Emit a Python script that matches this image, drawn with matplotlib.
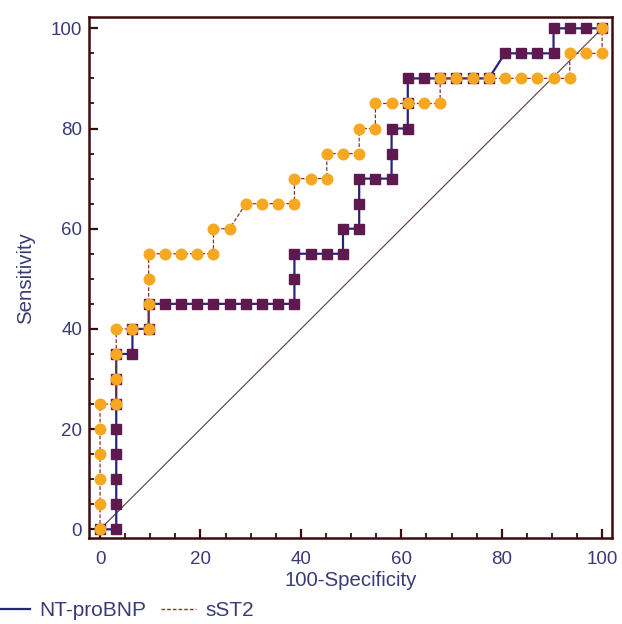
import matplotlib
matplotlib.use("Agg")
import matplotlib.pyplot as plt
from matplotlib.lines import Line2D
from matplotlib.ticker import MultipleLocator
import numpy as np

plt.rcParams['font.family'] = ['Liberation Sans', 'DejaVu Sans']

N_NEG = 31  # negatives -> step of 100/31 on the x axis

# NT-proBNP ROC points: (false-positive count k, sensitivity %)
bnp_k = [0, 1, 1, 1, 1, 1, 1, 1, 1, 2, 2, 3, 3, 4, 5, 6, 7, 8, 9, 10, 11, 12, 12, 12,
         13, 14, 15, 15, 16, 16, 16, 17, 18, 18, 18, 19, 19, 19, 20, 21, 22, 23, 24,
         25, 26, 27, 28, 28, 29, 30, 31]
bnp_sens = [0, 0, 5, 10, 15, 20, 25, 30, 35, 35, 40, 40, 45, 45, 45, 45, 45, 45, 45, 45, 45, 45, 50, 55,
            55, 55, 55, 60, 60, 65, 70, 70, 70, 75, 80, 80, 85, 90, 90, 90, 90, 90, 90,
            95, 95, 95, 95, 100, 100, 100, 100]

# sST2 ROC points
st2_k = [0, 0, 0, 0, 0, 0, 1, 1, 1, 1, 2, 3, 3, 3, 3, 4, 5, 6, 7, 7, 8, 9, 10, 11, 12, 12,
         13, 14, 14, 15, 16, 16, 17, 17, 18, 19, 20, 21, 21, 22, 23, 24, 25, 26, 27, 28, 29,
         29, 30, 31, 31]
st2_sens = [0, 5, 10, 15, 20, 25, 25, 30, 35, 40, 40, 40, 45, 50, 55, 55, 55, 55, 55, 60, 60, 65, 65, 65, 65, 70,
            70, 70, 75, 75, 75, 80, 80, 85, 85, 85, 85, 85, 90, 90, 90, 90, 90, 90, 90, 90, 90,
            95, 95, 95, 100]

bnp_x = np.array(bnp_k) * 100.0 / N_NEG
st2_x = np.array(st2_k) * 100.0 / N_NEG

labels = ["NT-proBNP", "sST2"]

frame_col = "#3d0c10"
text_col = "#3a3a78"
navy = "#25257e"
plum = "#5e1a4e"
orange = "#f6a821"
brown = "#8a3030"

fig = plt.figure(figsize=(6.22, 6.24), dpi=100)
ax = fig.add_axes([0.1431, 0.1373, 0.9834 - 0.1431, 0.9723 - 0.1373])

ax.plot([0, 100], [0, 100], color="#5a3a3a", lw=0.8, zorder=1)

ax.plot(bnp_x, bnp_sens, color=navy, lw=1.6, marker="s", markersize=6.8,
        markerfacecolor=plum, markeredgecolor=plum, zorder=2)
ax.plot(st2_x, st2_sens, color=brown, lw=0.9, ls=(0, (3, 1.5)), marker="o", markersize=7.6,
        markerfacecolor=orange, markeredgecolor=orange, zorder=3)

ax.set_xlim(-2.2, 101.9)
ax.set_ylim(-1.8, 102.2)
ax.xaxis.set_major_locator(MultipleLocator(20))
ax.yaxis.set_major_locator(MultipleLocator(20))
ax.xaxis.set_minor_locator(MultipleLocator(5))
ax.yaxis.set_minor_locator(MultipleLocator(5))

for s in ax.spines.values():
    s.set_color(frame_col)
    s.set_linewidth(1.8)

ax.tick_params(which="both", direction="in", color=frame_col, top=False, right=False,
               labelcolor=text_col, labelsize=13.5)
ax.tick_params(which="major", length=6.5, width=1.6)
ax.tick_params(which="minor", length=3.5, width=1.3)
ax.tick_params(axis="x", which="major", pad=9)
ax.tick_params(axis="y", which="major", pad=5)

ax.set_xlabel("100-Specificity", fontsize=14.7, color=text_col, labelpad=2)
ax.set_ylabel("Sensitivity", fontsize=14.7, color=text_col, labelpad=11)

handles = [Line2D([], [], color=navy, lw=1.6),
           Line2D([], [], color=brown, lw=1.0, ls=(0, (2.6, 1.5)))]
leg = fig.legend(handles, labels, loc="lower left", bbox_to_anchor=(-0.012, 0.003), ncol=2,
                 frameon=False, fontsize=15, handlelength=1.7, handletextpad=0.45,
                 columnspacing=0.7, borderaxespad=0, borderpad=0.1)
for t in leg.get_texts():
    t.set_color(text_col)

fig.savefig("out.png", dpi=100)
